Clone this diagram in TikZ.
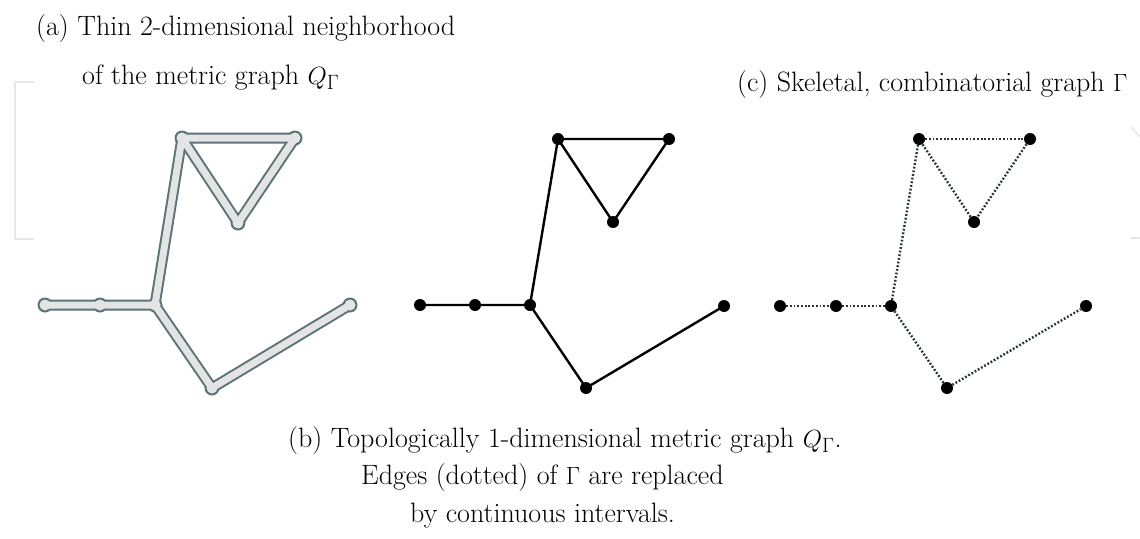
\documentclass[tikz,border=0pt]{standalone}
\usetikzlibrary{calc}
\definecolor{tubeout}{RGB}{92,115,120}
\definecolor{tubefill}{RGB}{228,228,228}
\definecolor{dotline}{RGB}{40,52,58}
\definecolor{faint}{RGB}{232,232,232}
\begin{document}
\begin{tikzpicture}[x=1pt,y=-1pt,
  lbl/.style={anchor=base west,inner sep=0pt,font=\fontsize{28}{33}\selectfont},
  vtx/.style={coordinate},
  tubeA/.style={line width=11pt,color=tubeout,line join=round,line cap=round},
  tubeB/.style={line width=7pt,color=tubefill,line join=round,line cap=round},
  solidedge/.style={line width=2.4pt,black},
  dotedge/.style={line width=2.4pt,color=dotline,dash pattern=on 1.8pt off 1.9pt},
  bdot/.style={circle,fill=black,inner sep=0pt,minimum size=12pt}]
\useasboundingbox (0,0) rectangle (1140,538);
% faint page marks
\draw[faint,line width=1.5pt] (34,82) -- (15,82) -- (15,239) -- (34,239);
\draw[faint,line width=1.5pt] (1140,137) -- (1131,127);
\draw[faint,line width=1.5pt] (1131,238) -- (1140,238);
% ---------- (a) tube graph ----------
\foreach \n/\x/\y in {a1/45/305,a2/100/305,a3/155/305,a4/182/138,a5/295/138,a6/238/223,a7/212/388,a8/350/305}
  \node[vtx] (\n) at (\x,\y) {};
\draw[tubeA] (a1) -- (a2) -- (a3) -- (a4) -- (a5) -- (a6) -- (a4);
\draw[tubeA] (a3) -- (a7) -- (a8);
\foreach \n in {a1,a2,a3,a4,a5,a6,a7,a8}
  \fill[tubeout] (\n) circle (7.5pt);
\draw[tubeB] (a1) -- (a2) -- (a3) -- (a4) -- (a5) -- (a6) -- (a4);
\draw[tubeB] (a3) -- (a7) -- (a8);
\foreach \n in {a1,a2,a3,a4,a5,a6,a7,a8}
  \fill[tubefill] (\n) circle (5.5pt);
% ---------- (b) metric graph ----------
\foreach \n/\x/\y in {b1/420/305,b2/475/305,b3/530/305,b4/558/139,b5/669/139,b6/613/222,b7/586/388,b8/724/306}
  \node[bdot] (\n) at (\x,\y) {};
\draw[solidedge] (b1.center) -- (b2.center) -- (b3.center) -- (b4.center) -- (b5.center) -- (b6.center) -- (b4.center);
\draw[solidedge] (b3.center) -- (b7.center) -- (b8.center);
% ---------- (c) combinatorial graph ----------
\foreach \n/\x/\y in {c1/780/306,c2/836/306,c3/891/306,c4/919/139,c5/1030/139,c6/974/222,c7/947/388,c8/1086/306}
  \node[bdot] (\n) at (\x,\y) {};
\draw[dotedge] (c1) -- (c2);
\draw[dotedge] (c2) -- (c3);
\draw[dotedge] (c3) -- (c4);
\draw[dotedge] (c4) -- (c5);
\draw[dotedge] (c5) -- (c6);
\draw[dotedge] (c6) -- (c4);
\draw[dotedge] (c3) -- (c7);
\draw[dotedge] (c7) -- (c8);
% ---------- labels ----------
\node[lbl] (ta1) at (36,35) {(a) Thin 2-dimensional neighborhood};
\node[lbl] (ta2) at (82,84) {of the metric graph $Q_\Gamma$};
\node[lbl] (tc) at (737,91) {(c) Skeletal, combinatorial graph $\Gamma$};
\node[lbl] (tb1) at (288,447) {(b) Topologically 1-dimensional metric graph $Q_\Gamma$.};
\node[lbl] (tb2) at (361,484) {Edges (dotted) of $\Gamma$ are replaced};
\node[lbl] (tb3) at (410,522) {by continuous intervals.};
\end{tikzpicture}
\end{document}
